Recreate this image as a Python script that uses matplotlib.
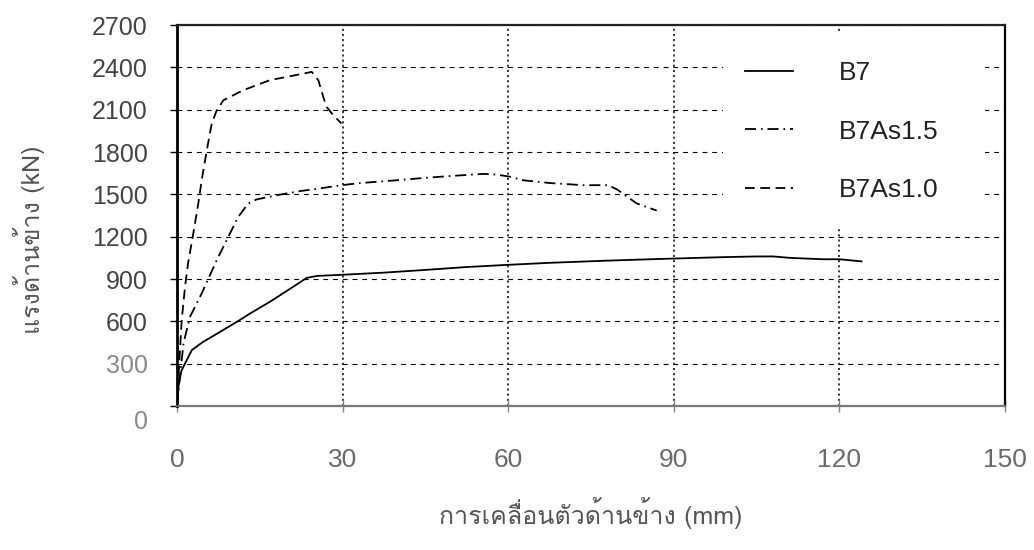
import os
import matplotlib
matplotlib.use("Agg")
import matplotlib.pyplot as plt
from matplotlib import font_manager
from matplotlib.patches import Rectangle
import matplotlib.transforms as mtransforms

# ---------------- data ----------------
b7_x = [0, 0.3, 0.8, 1.5, 2.7, 4.7, 8.0, 11.4, 13.2, 16.8, 21.0, 23.5, 25.4, 29.9,
        37.4, 45.2, 52.5, 59.7, 67.6, 77.8, 85.7, 90.0, 99.0, 105.0, 108.0, 111.0,
        117.0, 120.0, 124.0]
b7_y = [0, 150, 250, 305, 397, 454, 530, 610, 655, 738, 844, 908, 922, 930,
        945, 965, 985, 1000, 1015, 1030, 1040, 1045, 1055, 1060, 1060, 1050,
        1040, 1040, 1025]

b7as15_x = [0, 0.5, 1.2, 2.35, 4.47, 7.2, 9.0, 11.1, 12.9, 14.4, 18.1, 22.3, 25.9,
            29.8, 33.2, 39.8, 43.4, 49.5, 55.5, 57.9, 60.3, 62.7, 67.6, 73.6,
            78.1, 79.7, 81.5, 83.3, 86.9]
b7as15_y = [0, 200, 450, 632, 798, 1034, 1176, 1341, 1435, 1464, 1494, 1523, 1542,
            1565, 1580, 1600, 1612, 1630, 1645, 1640, 1625, 1600, 1580, 1565,
            1565, 1535, 1485, 1435, 1385]

b7as10_x = [0, 0.4, 0.85, 1.45, 2.0, 2.96, 3.86, 4.47, 5.4, 6.3, 7.2, 8.4, 12.0,
            16.8, 22.3, 24.4, 25.6, 26.5, 27.1, 28.3, 29.8]
b7as10_y = [0, 300, 609, 844, 1012, 1225, 1437, 1600, 1813, 2004, 2096, 2167, 2238,
            2309, 2351, 2368, 2309, 2190, 2120, 2061, 2002]

series_labels = ["B7", "B7As1.5", "B7As1.0"]
x_ticks = [0, 30, 60, 90, 120, 150]
y_ticks = [0, 300, 600, 900, 1200, 1500, 1800, 2100, 2400, 2700]
x_label = "การเคลื่อนตัวด้านข้าง (mm)"
y_label = "แรงด้านข้าง (kN)"

# ---------------- fonts ----------------
for p in ["/usr/share/fonts/opentype/tlwg/Loma.otf"]:
    if os.path.exists(p):
        font_manager.fontManager.addfont(p)
plt.rcParams["font.family"] = ["Liberation Sans", "DejaVu Sans"]
plt.rcParams["lines.scale_dashes"] = False
thai_family = ["Loma", "Liberation Sans", "DejaVu Sans"]

fig = plt.figure(figsize=(10.34, 5.5), dpi=100)
ax = fig.add_axes([0.1712, 0.2618, 0.8008, 0.6927])

lw = 1.3
ax.plot(b7_x, b7_y, color="black", lw=lw, linestyle="-", label=series_labels[0], zorder=3)
ax.plot(b7as15_x, b7as15_y, color="black", lw=lw,
        linestyle=(0, (8, 3.5, 1.2, 3.5)), label=series_labels[1], zorder=3)
ax.plot(b7as10_x, b7as10_y, color="black", lw=lw,
        linestyle=(0, (7, 4)), label=series_labels[2], zorder=3)

ax.set_xlim(0, 150)
ax.set_ylim(0, 2700)
ax.set_xticks(x_ticks)
ax.set_yticks(y_ticks)

# grid
ax.xaxis.grid(True, color="black", linestyle=(0, (1.5, 2.2)), linewidth=1.1, zorder=1)
ax.yaxis.grid(True, color="black", linestyle=(0, (3.5, 3.5)), linewidth=0.8, zorder=1)
ax.set_axisbelow(True)

# white area behind the legend
ax.add_patch(Rectangle((0.659, 0.467), 0.317, 0.515, transform=ax.transAxes,
                       facecolor="white", edgecolor="none", zorder=2))

# spines
ax.spines["left"].set_linewidth(2.0)
ax.spines["left"].set_color("black")
ax.spines["top"].set_linewidth(1.6)
ax.spines["top"].set_color("#222222")
ax.spines["right"].set_linewidth(1.6)
ax.spines["right"].set_color("black")
ax.spines["bottom"].set_linewidth(1.6)
ax.spines["bottom"].set_color("#777777")

ax.tick_params(axis="y", direction="out", length=5, width=1.0, color="black",
               pad=16, labelsize=18, labelcolor="#444444")
ax.tick_params(axis="x", direction="inout", length=9, width=1.0, color="#888888",
               pad=26, labelsize=19, labelcolor="#6a6a6a")

# lower y labels are lighter, 0 sits slightly lower in the reference
for lab, v in zip(ax.get_yticklabels(), y_ticks):
    if v <= 300:
        lab.set_color("#8a8a8a")
    if v == 0:
        lab.set_transform(lab.get_transform() +
                          mtransforms.ScaledTranslation(0, -10 / 72, fig.dpi_scale_trans))

ax.set_xlabel(x_label, family=thai_family, fontsize=18, color="#555555", labelpad=18)
ax.set_ylabel(y_label, family=thai_family, fontsize=18, color="#555555")
ax.yaxis.set_label_coords(-0.159, 0.436)

leg = ax.legend(loc="upper left", bbox_to_anchor=(0.686, 0.905), frameon=False,
                fontsize=19, handlelength=1.8, handletextpad=1.75, labelspacing=1.3,
                borderpad=0, borderaxespad=0)
for t in leg.get_texts():
    t.set_color("#222222")
leg.set_zorder(4)

fig.savefig("out.png", dpi=100)
